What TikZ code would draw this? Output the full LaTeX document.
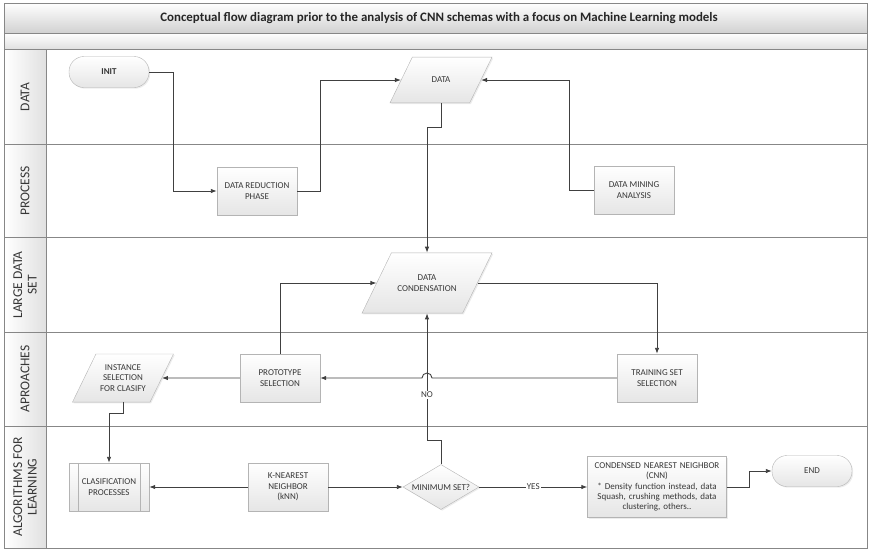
\documentclass[tikz,border=0pt]{standalone}
\usepackage{fontspec}
\setmainfont{Carlito}
\usetikzlibrary{arrows.meta, positioning, shapes.geometric, calc, shadows}
\definecolor{flowgray}{RGB}{64,64,64}
\definecolor{boxgray}{RGB}{180,180,180}
\definecolor{lanegray}{RGB}{135,135,135}
\definecolor{txtgray}{RGB}{55,55,55}

\begin{document}
\begin{tikzpicture}[x=1pt, y=-1pt,
  proc/.style={rectangle, draw=boxgray, top color=white, bottom color=black!10,
               drop shadow={opacity=0.15, shadow xshift=1.2pt, shadow yshift=-1.2pt},
               minimum width=80pt, minimum height=48pt, align=center, inner sep=2pt,
               font=\fontsize{9}{10.4}\selectfont, text=txtgray},
  term/.style={proc, rounded corners=15pt, minimum height=31pt},
  io/.style={proc, trapezium, trapezium left angle=64, trapezium right angle=116,
             trapezium stretches body, minimum height=1pt},
  dec/.style={diamond, draw=boxgray, top color=white, bottom color=black!10,
              drop shadow={opacity=0.15, shadow xshift=1.2pt, shadow yshift=-1.2pt},
              minimum width=76pt, minimum height=45pt, inner sep=0pt},
  flow/.style={-{Latex[length=6pt, width=4.5pt]}, line width=0.9pt, draw=flowgray},
  lanelabel/.style={rotate=90, align=center, font=\fontsize{13.5}{14.5}\selectfont, text=txtgray},
  tag/.style={fill=white, inner sep=1pt, font=\fontsize{9}{10.4}\selectfont, text=txtgray}
]
  \useasboundingbox (0,0) rectangle (869,550);

  % frame and lanes
  \shade[top color=white, bottom color=black!18] (4,3) rectangle (867,33);
  \shade[top color=white, bottom color=black!12] (4,33) rectangle (867,49);
  \shade[left color=white, right color=black!12] (5,49) rectangle (46,548);
  \node[font=\bfseries\fontsize{12.9}{14}\selectfont, text=black!85] (title) at (439,18)
    {Conceptual flow diagram prior to the analysis of CNN schemas with a focus on Machine Learning models};
  \foreach \y in {33,49,144,237,332,426}
    \draw[lanegray, line width=1pt] (4,\y) -- (867,\y);
  \draw[lanegray, line width=1pt] (46,49) -- (46,548);
  \draw[lanegray, line width=1pt] (4,3) rectangle (867,548);

  \node[lanelabel] (ldata)  at (25,97)  {DATA};
  \node[lanelabel] (lproc)  at (25,191) {PROCESS};
  \node[lanelabel] (llarge) at (25,285) {LARGE DATA\\SET};
  \node[lanelabel] (lappr)  at (25,379) {APROACHES};
  \node[lanelabel] (lalgo)  at (25,487) {ALGORITHMS FOR\\LEARNING};

  % nodes
  \node[term, font=\bfseries\fontsize{9}{10.4}\selectfont] (init) at (109,72) {INIT};
  \node[io, minimum width=102pt, inner ysep=20pt] (data) at (441,80) {DATA};
  \node[proc] (drp) at (257,191) {DATA REDUCTION\\PHASE};
  \node[proc] (dma) at (634,190) {DATA MINING\\ANALYSIS};
  \node[io, minimum width=130pt, inner ysep=22pt] (dc) at (427,283) {DATA\\CONDENSATION};
  \node[proc] (ps)  at (280,378) {PROTOTYPE\\SELECTION};
  \node[proc] (tss) at (657,378) {TRAINING SET\\SELECTION};
  \node[io, minimum width=101pt, inner ysep=10.7pt] (isc) at (123,378) {INSTANCE\\SELECTION\\FOR CLASIFY};
  \node[proc] (cp)  at (109,487) {CLASIFICATION\\PROCESSES};
  \draw[boxgray] ([xshift=9pt]cp.north west) -- ([xshift=9pt]cp.south west);
  \draw[boxgray] ([xshift=-9pt]cp.north east) -- ([xshift=-9pt]cp.south east);
  \node[proc] (knn) at (288,487) {K-NEAREST\\NEIGHBOR\\(kNN)};
  \node[dec, label={[tag, fill=none]center:MINIMUM SET?}] (minset) at (441,487) {};
  \node[proc, minimum width=139pt, minimum height=61pt, text width=134pt] (cnn) at (657,487)
    {CONDENSED NEAREST NEIGHBOR\\(CNN)\\{}* Density function instead, data\\Squash, crushing methods, data\\clustering, others..};
  \node[term] (end) at (812,471) {END};

  % connectors
  \draw[flow] (init.east) -- ++(24,0) |- (drp);
  \draw[flow] (drp.east) -- ++(23,0) |- (data);
  \draw[flow] (dma.west) -- ++(-24,0) |- (data);
  \draw[flow] (data.south) -- ++(0,24) -| (dc);
  \draw[flow] (ps.north) |- (dc);
  \draw[flow] (dc) -| (tss);
  \draw[flow] (tss.west) -- ([xshift=5pt]dc.center |- tss.west)
    arc[start angle=0, end angle=180, radius=5pt] -- (ps.east);
  \draw[flow] (ps.west) -- (isc);
  \draw[flow] (minset.north) -- ++(0,-24) -| node[tag, pos=0.68] {NO} (dc);
  \draw[flow] (isc.south) -- ++(0,11) -| (cp);
  \draw[flow] (knn) -- (cp);
  \draw[flow] (knn) -- (minset);
  \draw[flow] (minset) -- node[tag] {YES} (cnn);
  \draw[flow] (cnn.east) -- ++(23,0) |- (end);
\end{tikzpicture}
\end{document}
